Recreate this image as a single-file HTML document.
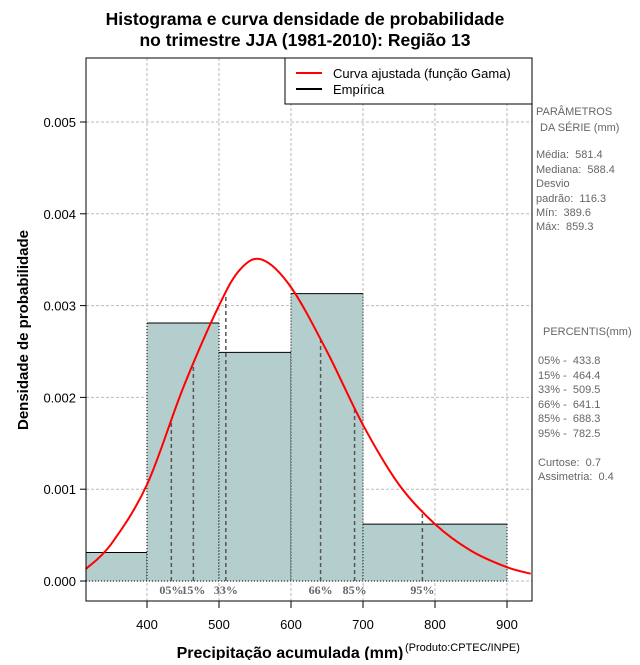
<!DOCTYPE html>
<html><head><meta charset="utf-8"><style>
body{margin:0;background:#fff;width:640px;height:660px;overflow:hidden}
svg{font-family:"Liberation Sans",sans-serif}
</style></head><body>
<svg id="c" width="640" height="660">
<text x="305" y="25" text-anchor="middle" font-weight="bold" font-size="17.5">Histograma e curva densidade de probabilidade</text>
<text x="305" y="46" text-anchor="middle" font-weight="bold" font-size="17.5">no trimestre JJA (1981-2010): Região 13</text>
<g id="grid"></g><g id="bars"></g><g id="pct"></g><g id="curve"></g><g id="axes"></g>
<rect x="86" y="58" width="446" height="543" fill="none" stroke="#000"/>
<g>
<rect x="285" y="58" width="247" height="46" fill="#fff" stroke="#000"/>
<line x1="296" y1="73" x2="322" y2="73" stroke="red" stroke-width="2"/>
<text x="333" y="78" font-size="13">Curva ajustada (função Gama)</text>
<line x1="296" y1="89" x2="322" y2="89" stroke="#000" stroke-width="2"/>
<text x="333" y="94" font-size="13">Empírica</text>
</g>
<g font-size="11" fill="#666">
<text x="536" y="115">PARÂMETROS</text><text x="540" y="131">DA SÉRIE (mm)</text>
<text x="536" y="158">Média:&#160; 581.4</text><text x="536" y="173">Mediana:&#160; 588.4</text>
<text x="536" y="187">Desvio</text><text x="536" y="202">padrão:&#160; 116.3</text>
<text x="536" y="216">Mín:&#160; 389.6</text><text x="536" y="230">Máx:&#160; 859.3</text>
<text x="543" y="335">PERCENTIS(mm)</text>
<text x="538" y="364">05% -&#160; 433.8</text><text x="538" y="379">15% -&#160; 464.4</text>
<text x="538" y="393">33% -&#160; 509.5</text><text x="538" y="408">66% -&#160; 641.1</text>
<text x="538" y="422">85% -&#160; 688.3</text><text x="538" y="437">95% -&#160; 782.5</text>
<text x="538" y="466">Curtose:&#160; 0.7</text><text x="538" y="480">Assimetria:&#160; 0.4</text>
</g>
<text x="28" y="330" transform="rotate(-90 28 330)" text-anchor="middle" font-weight="bold" font-size="15">Densidade de probabilidade</text>
<text x="290" y="658" text-anchor="middle" font-weight="bold" font-size="16">Precipitação acumulada (mm)</text>
<text x="405" y="651" font-size="11">(Produto:CPTEC/INPE)</text>
</svg>
<script>
const binEdges=[315,400,500,600,700,900];
const binDensity=[0.00031,0.00281,0.00249,0.00313,0.00062];
const curveX=[315,350,400,450,500,530,560,600,650,700,750,800,850,900,933];
const curveY=[0.00013,0.0004,0.00105,0.0021,0.003,0.0034,0.0035,0.0032,0.0025,0.0017,0.00105,0.00062,0.00033,0.00015,0.00008];
const pctLabels=["05%","15%","33%","66%","85%","95%"];
const pctValues=[433.8,464.4,509.5,641.1,688.3,782.5];
const xTicks=[400,500,600,700,800,900];
const yTicks=[0,0.001,0.002,0.003,0.004,0.005];
const NS="http://www.w3.org/2000/svg";
const X=v=>147+(v-400)*0.72, Y=v=>581-v*91800;
function mk(p,t,a){const e=document.createElementNS(NS,t);for(const k in a)e.setAttribute(k,a[k]);document.getElementById(p).appendChild(e);return e;}
xTicks.forEach(t=>{const l=mk('grid','line',{x1:X(t),x2:X(t),y1:58,y2:601,stroke:'#bbb','stroke-dasharray':'3,2'});

const k=mk('axes','line',{x1:X(t),x2:X(t),y1:601,y2:608,stroke:'#000'});
const tx=mk('axes','text',{x:X(t),y:629,'text-anchor':'middle','font-size':13});tx.textContent=t;});
yTicks.forEach(t=>{const l=mk('grid','line',{x1:86,x2:532,y1:Y(t),y2:Y(t),stroke:'#bbb','stroke-dasharray':'3,2'});

const k=mk('axes','line',{x1:80,x2:86,y1:Y(t),y2:Y(t),stroke:'#000'});
const tx=mk('axes','text',{x:76,y:Y(t)+5,'text-anchor':'end','font-size':13});tx.textContent=t.toFixed(3);});
binDensity.forEach((d,i)=>{const x0=Math.max(X(binEdges[i]),86),x1=X(binEdges[i+1]);
const r=mk('bars','rect',{x:x0,y:Y(d),width:x1-x0,height:Y(0)-Y(d),fill:'#b4cecd'});
const t=mk('bars','line',{x1:x0,x2:x1,y1:Y(d),y2:Y(d),stroke:'#000'});
[x0,x1].forEach(xx=>{const s=mk('bars','line',{x1:xx,x2:xx,y1:Y(d),y2:Y(0),stroke:'#000','stroke-dasharray':'1,2'});});});
const b=mk('bars','line',{x1:86,x2:X(900),y1:Y(0),y2:Y(0),stroke:'#000','stroke-dasharray':'1,2'});
function interp(v){for(let i=0;i<curveX.length-1;i++)if(v<=curveX[i+1]){const f=(v-curveX[i])/(curveX[i+1]-curveX[i]);return curveY[i]+f*(curveY[i+1]-curveY[i]);}return curveY[curveY.length-1];}
pctValues.forEach((v,i)=>{const l=mk('pct','line',{x1:X(v),x2:X(v),y1:Y(0),y2:Y(interp(v)),stroke:'#555','stroke-width':1.5,'stroke-dasharray':'4,3'});

const t=mk('pct','text',{x:X(v),y:594,'text-anchor':'middle','font-size':12,'font-weight':'bold',fill:'#666','font-family':'Liberation Serif, serif'});t.textContent=pctLabels[i];
});
const P=curveX.map((x,i)=>[X(x),Y(curveY[i])]);
let d='M'+P[0][0]+','+P[0][1];
for(let i=0;i<P.length-1;i++){const p0=P[Math.max(i-1,0)],p1=P[i],p2=P[i+1],p3=P[Math.min(i+2,P.length-1)];
d+=` C${p1[0]+(p2[0]-p0[0])/6},${p1[1]+(p2[1]-p0[1])/6} ${p2[0]-(p3[0]-p1[0])/6},${p2[1]-(p3[1]-p1[1])/6} ${p2[0]},${p2[1]}`;}
const c=mk('curve','path',{d:d,fill:'none',stroke:'red','stroke-width':2});
</script>
</body></html>
